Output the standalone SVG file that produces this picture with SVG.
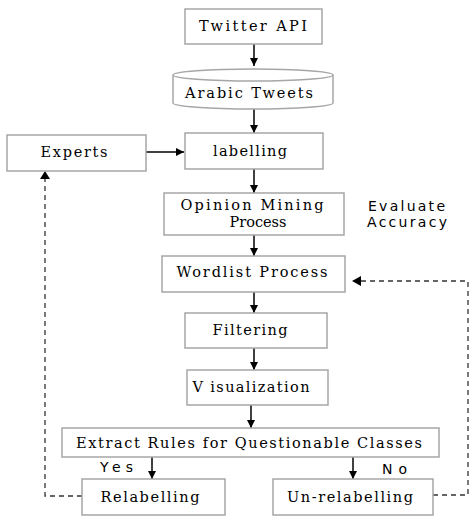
<svg xmlns="http://www.w3.org/2000/svg" width="470" height="519" viewBox="0 0 470 519">
<defs>
<marker id="ah" viewBox="0 0 10 10" refX="10" refY="5" markerWidth="8" markerHeight="8" markerUnits="userSpaceOnUse" orient="auto">
<path d="M0,0 L10,5 L0,10 z" fill="#000"/>
</marker>
</defs>
<style>
.box{fill:#fff;stroke:#a6a6a6;stroke-width:1.5}
.t{font-family:"DejaVu Serif","Liberation Serif",serif;font-size:14.5px;fill:#000;text-anchor:middle}
.s{font-family:"DejaVu Sans","Liberation Sans",sans-serif;font-size:14px;fill:#000}
.a{stroke:#000;stroke-width:1.5;fill:none;marker-end:url(#ah)}
.d{stroke:#333;stroke-width:1.3;fill:none;stroke-dasharray:5,4}
</style>
<rect width="470" height="519" fill="#fff"/>
<g id="connectors">
<line class="a" x1="254" y1="44" x2="254" y2="66"/>
<line class="a" x1="254" y1="109" x2="254" y2="133"/>
<line class="a" x1="146" y1="152" x2="184" y2="152"/>
<line class="a" x1="254" y1="169" x2="254" y2="193"/>
<line class="a" x1="254" y1="235" x2="254" y2="256"/>
<line class="a" x1="254" y1="292" x2="254" y2="313"/>
<line class="a" x1="254" y1="348" x2="254" y2="370"/>
<line class="a" x1="251" y1="405" x2="251" y2="428"/>
<line class="a" x1="152" y1="457" x2="152" y2="479"/>
<line class="a" x1="353" y1="457" x2="353" y2="479"/>
<polyline class="d" points="82,496 45,496 45,178"/>
<path d="M40,179 L45,171 L50,179 z" fill="#000"/>
<polyline class="d" points="433,495 468,495 468,281 361,281"/>
<path d="M361,276 L352,281 L361,286 z" fill="#000"/>
</g>
<g id="twitter-api">
<rect class="box" x="185" y="9" width="137" height="35"/>
<text class="t" x="253" y="31" textLength="108" lengthAdjust="spacing">Twitter API</text>
</g>
<g id="arabic-tweets">
<path class="box" d="M173,75 A80,6 0 0 1 333,75 L333,103 A80,6 0 0 1 173,103 Z"/>
<path d="M173,75 A80,6 0 0 0 333,75" fill="none" stroke="#a6a6a6" stroke-width="1.5"/>
<text class="t" x="249" y="98" textLength="128" lengthAdjust="spacing">Arabic Tweets</text>
</g>
<g id="experts">
<rect class="box" x="7" y="135" width="139" height="36"/>
<text class="t" x="74" y="157" textLength="67" lengthAdjust="spacing">Experts</text>
</g>
<g id="labelling">
<rect class="box" x="185" y="133" width="138" height="36"/>
<text class="t" x="250" y="156" textLength="74" lengthAdjust="spacing">labelling</text>
</g>
<g id="opinion-mining">
<rect class="box" x="164" y="193" width="180" height="42"/>
<text class="t" x="252" y="210" textLength="143" lengthAdjust="spacing">Opinion Mining</text>
<text class="t" x="258" y="227">Process</text>
</g>
<g id="evaluate-accuracy">
<text class="s" x="368" y="211" textLength="77" lengthAdjust="spacing">Evaluate</text>
<text class="s" x="367" y="227" textLength="80" lengthAdjust="spacing">Accuracy</text>
</g>
<g id="wordlist">
<rect class="box" x="162" y="256" width="183" height="36"/>
<text class="t" x="252" y="277" textLength="151" lengthAdjust="spacing">Wordlist Process</text>
</g>
<g id="filtering">
<rect class="box" x="185" y="313" width="142" height="35"/>
<text class="t" x="250" y="335" textLength="75" lengthAdjust="spacing">Filtering</text>
</g>
<g id="visualization">
<rect class="box" x="187" y="370" width="141" height="35"/>
<text class="t" x="251" y="392" textLength="117" lengthAdjust="spacing">V isualization</text>
</g>
<g id="extract-rules">
<rect class="box" x="62" y="428" width="377" height="29"/>
<text class="t" x="249" y="448" textLength="346" lengthAdjust="spacing">Extract Rules for Questionable Classes</text>
</g>
<g id="yes-label">
<text class="s" x="100" y="472" textLength="33" lengthAdjust="spacing">Yes</text>
</g>
<g id="no-label">
<text class="s" x="382" y="474" textLength="25" lengthAdjust="spacing">No</text>
</g>
<g id="relabelling">
<rect class="box" x="82" y="479" width="143" height="36"/>
<text class="t" x="150" y="502" textLength="99" lengthAdjust="spacing">Relabelling</text>
</g>
<g id="un-relabelling">
<rect class="box" x="273" y="479" width="160" height="36"/>
<text class="t" x="350" y="502" textLength="126" lengthAdjust="spacing">Un-relabelling</text>
</g>
</svg>
